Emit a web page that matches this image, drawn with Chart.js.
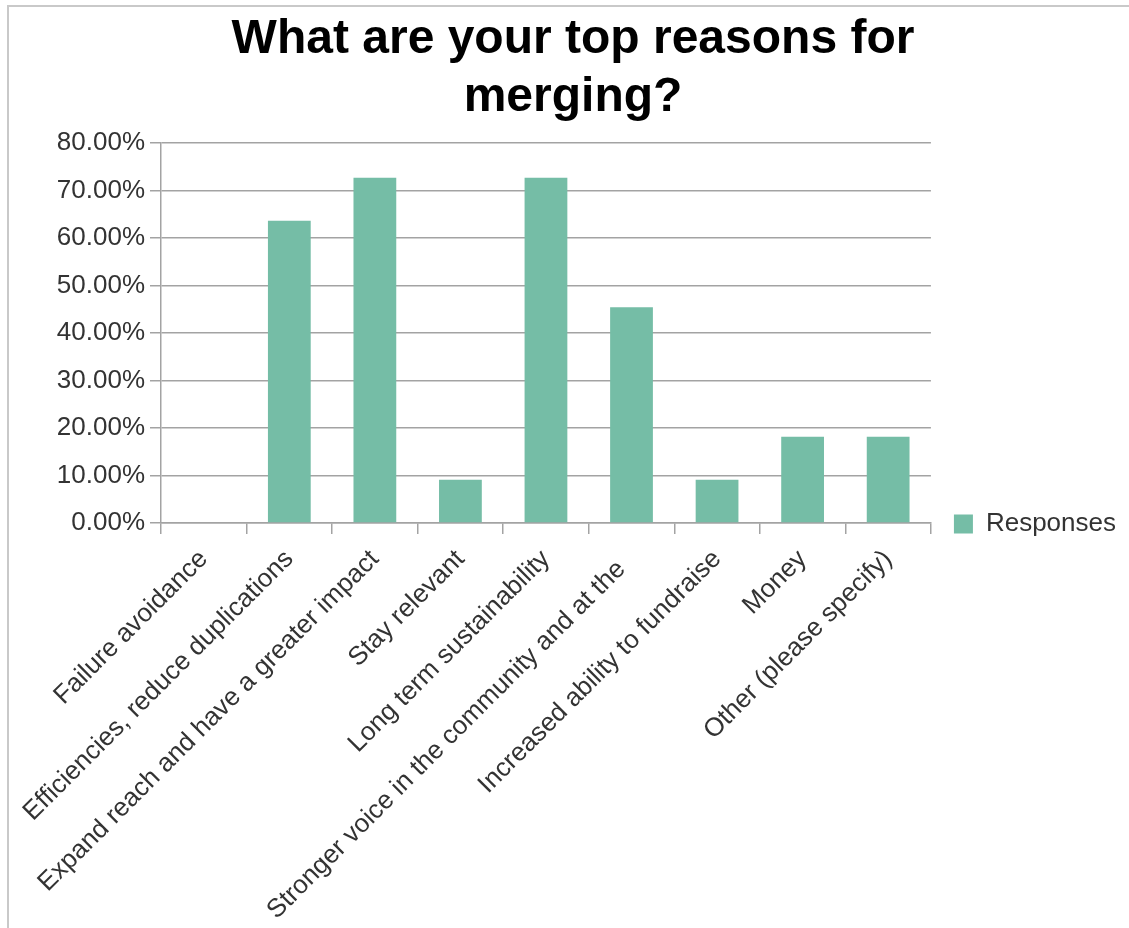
<!DOCTYPE html>
<html>
<head>
<meta charset="utf-8">
<script src="https://cdn.jsdelivr.net/npm/chart.js@4/dist/chart.umd.min.js"></script>
<style>
    html, body { margin: 0; padding: 0; background: #fff; overflow: hidden; }
    #wrap { position: relative; width: 1129px; height: 928px; overflow: hidden; }
    #frame { position: absolute; left: 7px; top: 5px; width: 1300px; height: 1100px; border: 2px solid #c9c9c9; }
    #chart { position: absolute; left: 0; top: 0; }
</style>
</head>
<body>
<div id="wrap">
    <div id="frame"></div>
    <canvas id="chart" width="1129" height="928"></canvas>
</div>
<script>
const categories = [
    'Failure avoidance',
    'Efficiencies, reduce duplications',
    'Expand reach and have a greater impact',
    'Stay relevant',
    'Long term sustainability',
    'Stronger voice in the community and at the  ',
    'Increased ability to fundraise',
    'Money',
    'Other (please specify)'
];
const responses = [0, 63.64, 72.73, 9.09, 72.73, 45.45, 9.09, 18.18, 18.18];
const titleLines = ['What are your top reasons for', 'merging?'];
const seriesName = 'Responses';

const fontFamily = '"Liberation Sans", Arial, sans-serif';
const gridColor = '#a3a3a3';
const barColor = '#75bda6';

// move the legend down to the x axis line, like the original
const legendMover = {
    id: 'legendMover',
    afterLayout(chart) {
        const lg = chart.legend;
        const area = chart.chartArea;
        const w = lg.right - lg.left;
        const h = lg.bottom - lg.top;
        lg.left = area.right + 13;
        lg.right = lg.left + w;
        lg.top = area.bottom + 1 - 10 - 13;
        lg.bottom = lg.top + h;
    }
};

const ctx = document.getElementById('chart').getContext('2d');
new Chart(ctx, {
    type: 'bar',
    data: {
        labels: categories,
        datasets: [{
            label: seriesName,
            data: responses,
            backgroundColor: barColor,
            borderWidth: 0,
            categoryPercentage: 1,
            barPercentage: 0.5
        }]
    },
    options: {
        responsive: false,
        animation: false,
        layout: { padding: { left: 33, right: 16, top: 0, bottom: 0 } },
        plugins: {
            title: {
                display: true,
                text: titleLines,
                color: '#000',
                font: { family: fontFamily, size: 48, weight: 'bold', lineHeight: 1.2 },
                padding: { top: 11, bottom: 17 }
            },
            legend: {
                position: 'right',
                align: 'start',
                labels: {
                    color: '#333',
                    font: { family: fontFamily, size: 26 },
                    boxWidth: 19,
                    boxHeight: 19,
                    padding: 10
                }
            },
            tooltip: { enabled: false }
        },
        scales: {
            x: {
                afterFit: scale => { scale.height = 405; },
                grid: {
                    display: true,
                    drawOnChartArea: false,
                    drawTicks: true,
                    tickLength: 11,
                    color: gridColor,
                    lineWidth: 1.5
                },
                border: { color: gridColor, width: 1.5 },
                ticks: {
                    autoSkip: false,
                    minRotation: 45,
                    maxRotation: 45,
                    padding: 10,
                    color: '#333',
                    font: { family: fontFamily, size: 26 }
                }
            },
            y: {
                min: 0,
                max: 80,
                afterFit: scale => { scale.width = 128; },
                grid: {
                    color: gridColor,
                    lineWidth: 1.5,
                    tickLength: 11
                },
                border: { color: gridColor, width: 1.5 },
                ticks: {
                    stepSize: 10,
                    padding: 5,
                    color: '#333',
                    font: { family: fontFamily, size: 26 },
                    callback: v => v.toFixed(2) + '%'
                }
            }
        }
    },
    plugins: [legendMover]
});
</script>
</body>
</html>
